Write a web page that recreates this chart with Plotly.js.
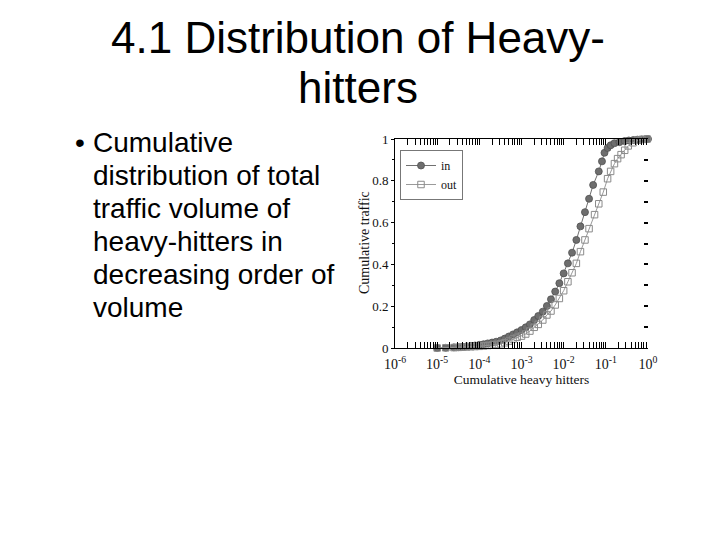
<!DOCTYPE html>
<html>
<head>
<meta charset="utf-8">
<script src="https://cdn.plot.ly/plotly-3.0.1.min.js"></script>
<style>
  html, body { margin: 0; padding: 0; background: #ffffff; }
  #slide { position: relative; width: 720px; height: 540px; overflow: hidden; background: #ffffff; }
  #chart { position: absolute; left: 0; top: 0; width: 720px; height: 540px; }
  .title { position: absolute; left: 0; width: 716px; text-align: center; top: 13px;
           font-family: "Liberation Sans", Arial, sans-serif; font-size: 44px; line-height: 50px; color: #000; z-index: 2; }
  .bullet { position: absolute; left: 75px; top: 126px; font-family: "Liberation Sans", Arial, sans-serif;
            font-size: 28px; line-height: 33px; color: #000; z-index: 2; }
  .btext { position: absolute; left: 93px; top: 126px; font-family: "Liberation Sans", Arial, sans-serif;
           font-size: 28px; line-height: 33px; color: #000; white-space: nowrap; z-index: 2; }
</style>
</head>
<body>
<div id="slide">
  <div id="chart"></div>
  <div class="title" id="title"></div>
  <div class="bullet">&#8226;</div>
  <div class="btext" id="btext"></div>
</div>
<script>
// ---- slide text ----
const titleLines = ["4.1 Distribution of Heavy-", "hitters"];
const bulletLines = ["Cumulative", "distribution of total", "traffic volume of", "heavy-hitters in", "decreasing order of", "volume"];

// ---- chart data ----
const inX = [1.0e-5, 1.6e-5, 2.5e-5, 3.2e-5, 4.0e-5, 5.0e-5, 6.3e-5, 7.9e-5,
  1.0e-4, 1.26e-4, 1.58e-4, 2.0e-4, 2.5e-4, 3.2e-4, 4.0e-4, 5.0e-4, 6.3e-4, 7.9e-4,
  1.0e-3, 1.26e-3, 1.58e-3, 2.0e-3, 2.5e-3, 3.2e-3, 4.0e-3, 5.0e-3, 6.3e-3, 7.9e-3,
  0.010, 0.0126, 0.0158, 0.020, 0.025, 0.032, 0.040, 0.050, 0.068, 0.081, 0.093,
  0.11, 0.13, 0.16, 0.21, 0.28, 0.35, 0.45, 0.56, 0.71, 0.89, 1.0];
const inY = [0.000, 0.001, 0.003, 0.004, 0.006, 0.008, 0.010, 0.012,
  0.015, 0.018, 0.022, 0.026, 0.030, 0.036, 0.045, 0.055, 0.065, 0.075,
  0.086, 0.099, 0.113, 0.134, 0.153, 0.174, 0.201, 0.233, 0.270, 0.310,
  0.357, 0.405, 0.456, 0.517, 0.582, 0.650, 0.714, 0.780, 0.845, 0.893, 0.934,
  0.957, 0.970, 0.980, 0.985, 0.990, 0.993, 0.995, 0.997, 0.998, 0.999, 1.000];

const outX = [1.0e-5, 1.6e-5, 2.5e-5, 3.2e-5, 4.0e-5, 5.0e-5, 6.3e-5, 7.9e-5,
  1.0e-4, 1.26e-4, 1.58e-4, 2.0e-4, 2.5e-4, 3.2e-4, 4.0e-4, 5.0e-4, 6.3e-4, 7.9e-4,
  1.0e-3, 1.26e-3, 1.58e-3, 2.0e-3, 2.5e-3, 3.2e-3, 4.0e-3, 5.0e-3, 6.3e-3, 7.9e-3,
  0.010, 0.0126, 0.0158, 0.020, 0.025, 0.032, 0.040, 0.054, 0.068, 0.087,
  0.11, 0.13, 0.16, 0.19, 0.23, 0.28, 0.34, 0.44, 0.58, 0.72, 0.95];
const outY = [0.000, 0.001, 0.002, 0.003, 0.004, 0.005, 0.006, 0.007,
  0.008, 0.010, 0.012, 0.014, 0.017, 0.020, 0.025, 0.033, 0.043, 0.051,
  0.057, 0.067, 0.081, 0.099, 0.113, 0.134, 0.158, 0.177, 0.206, 0.237,
  0.274, 0.317, 0.360, 0.405, 0.461, 0.517, 0.571, 0.638, 0.690, 0.746,
  0.810, 0.845, 0.882, 0.906, 0.925, 0.946, 0.967, 0.982, 0.994, 0.998, 1.000];

const seriesNames = ["in", "out"];
const xTickVals = [1e-6, 1e-5, 1e-4, 1e-3, 1e-2, 1e-1, 1];
const xTickText = ["10<sup>-6</sup>", "10<sup>-5</sup>", "10<sup>-4</sup>", "10<sup>-3</sup>", "10<sup>-2</sup>", "10<sup>-1</sup>", "10<sup>0</sup>"];
const yTickVals = [0, 0.2, 0.4, 0.6, 0.8, 1];
const yTickText = ["0", "0.2", "0.4", "0.6", "0.8", "1"];
const xTitle = "Cumulative heavy hitters";
const yTitle = "Cumulative traffic";

document.getElementById("title").innerHTML = titleLines.join("<br>");
document.getElementById("btext").innerHTML = bulletLines.join("<br>");

const serif = "Liberation Serif, Times New Roman, serif";

const traces = [
  { x: inX, y: inY, name: seriesNames[0], type: "scatter", mode: "lines+markers", cliponaxis: false,
    line: { color: "#707070", width: 1 },
    marker: { symbol: "circle", size: 7, color: "#6e6e6e", line: { color: "#505050", width: 0.8 } } },
  { x: outX, y: outY, name: seriesNames[1], type: "scatter", mode: "lines+markers", cliponaxis: false,
    line: { color: "#9a9a9a", width: 1 },
    marker: { symbol: "square-open", size: 6.5, color: "#8a8a8a", line: { color: "#8a8a8a", width: 1 } } },
  { x: [null], y: [null], yaxis: "y2", showlegend: false, hoverinfo: "skip", type: "scatter", mode: "markers" }
];

const x0 = 395, x1 = 648, yTop = 139, yBot = 348;
const layout = {
  width: 720, height: 540,
  margin: { l: 0, r: 0, t: 0, b: 0, pad: 0 },
  paper_bgcolor: "rgba(0,0,0,0)", plot_bgcolor: "rgba(0,0,0,0)",
  font: { family: serif, size: 13, color: "#111" },
  showlegend: true,
  legend: {
    x: 400 / 720, y: 1 - 150 / 540, xanchor: "left", yanchor: "top",
    bgcolor: "#ffffff", bordercolor: "#777", borderwidth: 1,
    font: { family: serif, size: 12, color: "#111" },
    itemwidth: 30, tracegroupgap: 0
  },
  annotations: [
    { text: yTitle, xref: "paper", yref: "paper", x: 365 / 720, y: 1 - 243 / 540,
      xanchor: "center", yanchor: "middle", textangle: -90, showarrow: false,
      font: { family: serif, size: 14, color: "#111" } }
  ],
  xaxis: {
    type: "log", range: [-6, 0], domain: [x0 / 720, x1 / 720], anchor: "y",
    tickmode: "array", tickvals: xTickVals, ticktext: xTickText,
    ticks: "inside", ticklen: 6, tickcolor: "#000", tickwidth: 1, ticklabelstandoff: 3,
    minor: { tickmode: "linear", dtick: "D1", ticks: "inside", ticklen: 3, tickcolor: "#000", showgrid: false },
    showline: true, linecolor: "#000", linewidth: 1, mirror: "allticks",
    showgrid: false, zeroline: false, automargin: false,
    tickfont: { family: serif, size: 14, color: "#111" },
    title: { text: xTitle, font: { family: serif, size: 13.5, color: "#111" }, standoff: 0 }
  },
  yaxis: {
    range: [0, 1], domain: [1 - yBot / 540, 1 - yTop / 540], anchor: "x",
    tickmode: "array", tickvals: yTickVals, ticktext: yTickText,
    ticks: "outside", ticklen: 3, tickcolor: "#000", tickwidth: 1,
    minor: { tickmode: "linear", tick0: 0, dtick: 0.1, ticks: "outside", ticklen: 2, tickcolor: "#000", showgrid: false },
    showline: true, linecolor: "#000", linewidth: 1, mirror: false,
    showgrid: false, zeroline: false, automargin: false,
    tickfont: { family: serif, size: 13, color: "#111" }
  },
  yaxis2: {
    overlaying: "y", side: "right", anchor: "x", range: [0, 1],
    tickmode: "linear", tick0: 0, dtick: 0.1, ticks: "inside", ticklen: 4, tickcolor: "#000", tickwidth: 2,
    showticklabels: false, showline: false, showgrid: false, zeroline: false, automargin: false
  }
};

Plotly.newPlot("chart", traces, layout, { staticPlot: true, displayModeBar: false });
</script>
</body>
</html>
